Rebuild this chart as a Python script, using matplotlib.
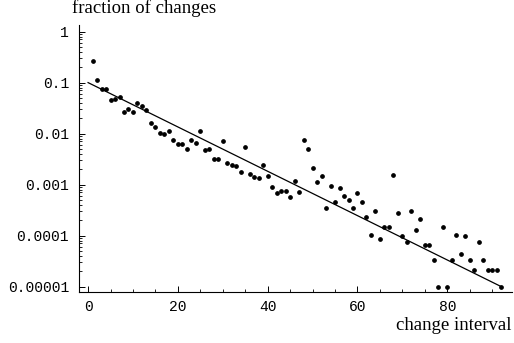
import numpy as np
import matplotlib
matplotlib.use('Agg')
import matplotlib.pyplot as plt
from matplotlib.ticker import FixedLocator, NullFormatter

# change interval -> fraction of changes
interval = list(range(1, 93))
fraction = [0.26, 0.11, 0.075, 0.075, 0.045, 0.048, 0.052, 0.026, 0.031, 0.027,
            0.039, 0.035, 0.029, 0.016, 0.0135, 0.0105, 0.0099, 0.011, 0.0074, 0.0063,
            0.0063, 0.0051, 0.0075, 0.0064, 0.0111, 0.0048, 0.0049, 0.0032, 0.0032, 0.0072,
            0.0027, 0.0024, 0.0023, 0.0018, 0.0055, 0.0016, 0.00144, 0.00133, 0.0024, 0.00148,
            0.00091, 0.00068, 0.00074, 0.00074, 0.00058, 0.00115, 0.0007, 0.0075, 0.0049, 0.0021,
            0.0011, 0.00146, 0.00034, 0.00094, 0.00046, 0.00084, 0.0006, 0.0005, 0.00035, 0.00067,
            0.00045, 0.00023, 0.000105, 0.0003, 0.000085, 0.00015, 0.00015, 0.00153, 0.00028, 0.000097,
            0.000075, 0.0003, 0.000128, 0.000215, 0.000064, 0.000064, 0.000033, 0.00001, 0.00015, 0.00001,
            0.000033, 0.000105, 0.000043, 0.000097, 0.000033, 0.000021, 0.000075, 0.000033, 0.000021, 0.000021,
            0.000021, 0.00001]

# fitted line endpoints
fit_x = [0, 92]
fit_y = [0.1, 0.00001]

ytick_vals = [1, 0.1, 0.01, 0.001, 0.0001, 0.00001]
ytick_labels = ['1', '0.1', '0.01', '0.001', '0.0001', '0.00001']
xtick_vals = [0, 20, 40, 60, 80]

fig = plt.figure(figsize=(5.14, 3.43), dpi=100)
ax = fig.add_axes([0.153, 0.1496, 0.843, 0.7776])

ax.plot(interval, fraction, 'o', color='black', ms=2.4, mec='black', clip_on=False)
ax.plot(fit_x, fit_y, '-', color='black', lw=0.9)

ax.set_yscale('log')
ax.set_xlim(-2.1, 94.4)
ax.set_ylim(10 ** -5.1, 10 ** 0.13)

for s in ['top', 'right']:
    ax.spines[s].set_visible(False)
for s in ['left', 'bottom']:
    ax.spines[s].set_linewidth(0.8)

mono = 'Liberation Mono'
ax.set_yticks(ytick_vals)
ax.set_yticklabels(ytick_labels, family=mono, fontsize=10.5)
minors = [m * 10.0 ** e for e in range(-5, 0) for m in range(2, 10)]
ax.yaxis.set_minor_locator(FixedLocator(minors))
ax.yaxis.set_minor_formatter(NullFormatter())

ax.set_xticks(xtick_vals)
ax.set_xticklabels([str(v) for v in xtick_vals], family=mono, fontsize=10.5)
ax.xaxis.set_minor_locator(FixedLocator([v for v in range(0, 95, 5) if v % 20]))

ax.tick_params(which='major', direction='in', length=4, width=0.7, pad=6)
ax.tick_params(which='minor', direction='in', length=2.2, width=0.6)
ax.tick_params(axis='y', which='major', pad=7)

fig.text(144 / 514, 1 - 8 / 343, 'fraction of changes', family='Liberation Serif',
         fontsize=13.5, ha='center', va='center')
fig.text(454 / 514, 1 - 325 / 343, 'change interval', family='Liberation Serif',
         fontsize=13.5, ha='center', va='center')

fig.savefig('out.png', dpi=100)
